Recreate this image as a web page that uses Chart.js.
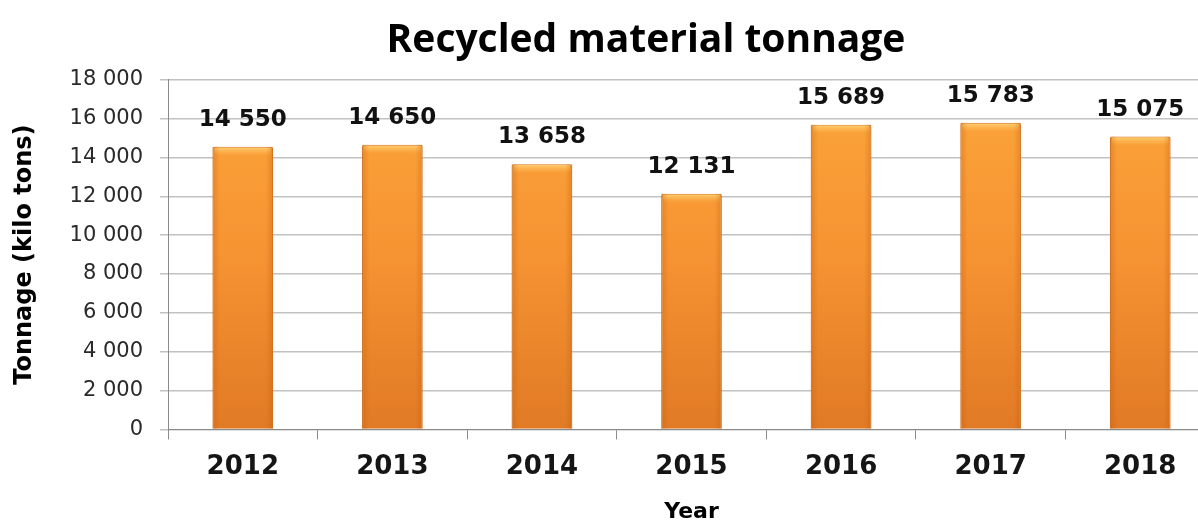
<!DOCTYPE html>
<html>
<head>
<meta charset="utf-8">
<script src="https://cdn.jsdelivr.net/npm/chart.js@4/dist/chart.umd.min.js"></script>
<style>
  html, body { margin: 0; padding: 0; overflow: hidden; background: #fff; }
  #wrap { position: relative; width: 1215px; height: 525px; }
</style>
</head>
<body>
<div id="wrap"><canvas id="tonnage"></canvas></div>
<script>
// yearly recycled tonnage, kilo tons
const years = ['2012', '2013', '2014', '2015', '2016', '2017', '2018'];
const tonnage = [14550, 14650, 13658, 12131, 15689, 15783, 15075];
const yTicks = [0, 2000, 4000, 6000, 8000, 10000, 12000, 14000, 16000, 18000];

// 14550 -> "14 550"
function spaced(n) {
    return String(n).replace(/\B(?=(\d{3})+(?!\d))/g, ' ');
}

function barFill(context) {
    const chart = context.chart;
    const area = chart.chartArea;
    if (!area) return '#f39530';
    const g = chart.ctx.createLinearGradient(0, area.top, 0, area.bottom);
    g.addColorStop(0, '#fca63b');
    g.addColorStop(0.5, '#f69332');
    g.addColorStop(1, '#e17a25');
    return g;
}

// value labels above each bar
const valueLabels = {
    id: 'valueLabels',
    afterDatasetsDraw(chart) {
        const ctx = chart.ctx;
        const meta = chart.getDatasetMeta(0);
        ctx.save();
        ctx.font = 'bold 23px "DejaVu Sans"';
        ctx.fillStyle = '#111';
        ctx.textAlign = 'center';
        ctx.textBaseline = 'middle';
        meta.data.forEach((bar, i) => {
            ctx.fillText(spaced(tonnage[i]), bar.x, bar.y - 27);
        });
        ctx.restore();
    }
};

// light bevel along the top of each bar, darker side edges
const barShine = {
    id: 'barShine',
    afterDatasetDraw(chart) {
        const ctx = chart.ctx;
        const meta = chart.getDatasetMeta(0);
        ctx.save();
        meta.data.forEach(bar => {
            const w = bar.width;
            const x0 = bar.x - w / 2;
            const g = ctx.createLinearGradient(0, bar.y, 0, bar.y + 9);
            g.addColorStop(0, 'rgba(255,214,120,0.95)');
            g.addColorStop(1, 'rgba(255,190,90,0)');
            ctx.fillStyle = g;
            ctx.fillRect(x0 + 2, bar.y + 1, w - 4, 9);
            const s = ctx.createLinearGradient(x0, 0, x0 + w, 0);
            s.addColorStop(0, 'rgba(190,90,10,0.35)');
            s.addColorStop(0.12, 'rgba(190,90,10,0)');
            s.addColorStop(0.88, 'rgba(190,90,10,0)');
            s.addColorStop(1, 'rgba(190,90,10,0.35)');
            ctx.fillStyle = s;
            ctx.fillRect(x0, bar.y, w, bar.base - bar.y);
        });
        ctx.restore();
    }
};

// centre the heading over the value axis and plot instead of the whole canvas
const headingSpan = {
    id: 'headingSpan',
    afterLayout(chart) {
        const t = chart.titleBlock;
        if (!t) return;
        t.left = chart.chartArea.left - 91;
        t.right = chart.chartArea.right;
    }
};

new Chart(document.getElementById('tonnage'), {
    type: 'bar',
    data: {
        labels: years,
        datasets: [{
            data: tonnage,
            backgroundColor: barFill,
            borderColor: '#d8741d',
            borderWidth: 1,
            borderRadius: 2,
            borderSkipped: 'bottom',
            barPercentage: 0.405,
            categoryPercentage: 1
        }]
    },
    options: {
        responsive: true,
        maintainAspectRatio: false,
        animation: false,
        layout: { padding: { left: 10, right: 0, top: 0, bottom: 0 } },
        plugins: {
            legend: { display: false },
            tooltip: { enabled: false },
            title: {
                display: true,
                text: 'Recycled material tonnage',
                color: '#000',
                font: { family: 'Open Sans', size: 39, weight: 'bold', lineHeight: 1.2 },
                padding: { top: 17, bottom: 16 }
            }
        },
        scales: {
            x: {
                offset: true,
                grid: {
                    display: true,
                    drawOnChartArea: false,
                    offset: true,
                    tickLength: 10,
                    color: '#8a8a8a'
                },
                border: { color: '#8a8a8a' },
                ticks: {
                    color: '#151515',
                    padding: 12,
                    font: { family: 'DejaVu Sans', size: 26, weight: 'bold', lineHeight: 1.2 }
                },
                title: {
                    display: true,
                    text: 'Year',
                    color: '#000',
                    font: { family: 'DejaVu Sans', size: 22, weight: 'bold', lineHeight: 1.2 },
                    padding: { top: 4, bottom: 0 }
                }
            },
            y: {
                min: 0,
                max: 18000,
                afterBuildTicks(axis) {
                    axis.ticks = yTicks.map(v => ({ value: v }));
                },
                afterFit(axis) {
                    axis.width = 158;
                },
                grid: {
                    color: '#c2c2c2',
                    tickLength: 8,
                    lineWidth: 1.5
                },
                border: { color: '#8a8a8a' },
                ticks: {
                    color: '#2a2a2a',
                    padding: 17,
                    font: { family: 'DejaVu Sans', size: 21 },
                    callback: v => spaced(v)
                },
                title: {
                    display: true,
                    text: 'Tonnage (kilo tons)',
                    color: '#000',
                    font: { family: 'DejaVu Sans', size: 24, weight: 'bold', lineHeight: 1.2 },
                    padding: { top: 0, bottom: 8 }
                }
            }
        }
    },
    plugins: [barShine, valueLabels, headingSpan]
});
</script>
</body>
</html>
